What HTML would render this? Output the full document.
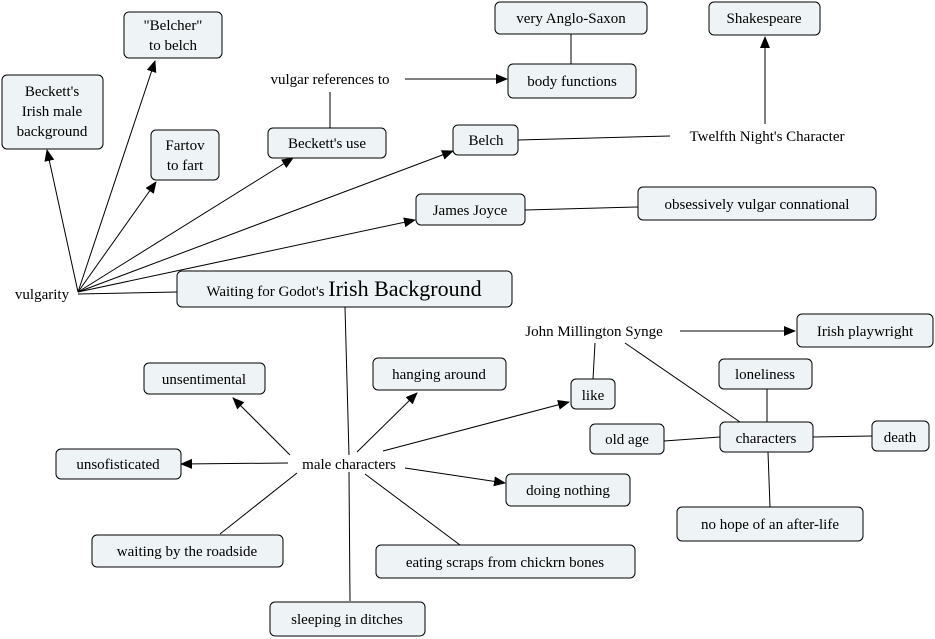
<!DOCTYPE html>
<html><head><meta charset="utf-8"><style>
html,body{margin:0;padding:0;background:#fff;}
svg{display:block;font-family:"Liberation Serif",serif;}
.b{fill:#eef3f5;stroke:#000;stroke-width:1;}
text{font-size:15px;fill:#000;text-anchor:middle;}
line{stroke:#000;stroke-width:1;}
</style></head><body>
<svg width="935" height="639" viewBox="0 0 935 639" xmlns="http://www.w3.org/2000/svg">
<defs><marker id="a" markerWidth="12" markerHeight="10" refX="11" refY="5" orient="auto" markerUnits="userSpaceOnUse"><path d="M0,0 L12,5 L0,10 z" fill="#000"/></marker></defs>
<g>
<line x1="78" y1="292" x2="47" y2="150" marker-end="url(#a)"/>
<line x1="78" y1="292" x2="155" y2="61" marker-end="url(#a)"/>
<line x1="78" y1="292" x2="156" y2="182" marker-end="url(#a)"/>
<line x1="78" y1="292" x2="293" y2="158" marker-end="url(#a)"/>
<line x1="78" y1="292" x2="453" y2="151" marker-end="url(#a)"/>
<line x1="78" y1="292" x2="415" y2="220" marker-end="url(#a)"/>
<line x1="78" y1="294" x2="177" y2="292"/>
<line x1="330" y1="128" x2="330" y2="92"/>
<line x1="405" y1="79" x2="507" y2="79" marker-end="url(#a)"/>
<line x1="571" y1="34" x2="571" y2="64"/>
<line x1="518" y1="140" x2="670" y2="136"/>
<line x1="765" y1="124" x2="765" y2="37" marker-end="url(#a)"/>
<line x1="525" y1="210" x2="638" y2="207"/>
<line x1="345" y1="307" x2="349" y2="455"/>
<line x1="349" y1="472" x2="350" y2="601"/>
<line x1="290" y1="455" x2="233" y2="398" marker-end="url(#a)"/>
<line x1="288" y1="463" x2="181" y2="464" marker-end="url(#a)"/>
<line x1="357" y1="452" x2="417" y2="393" marker-end="url(#a)"/>
<line x1="383" y1="451" x2="569" y2="402" marker-end="url(#a)"/>
<line x1="405" y1="468" x2="505" y2="483" marker-end="url(#a)"/>
<line x1="297" y1="473" x2="220" y2="534"/>
<line x1="365" y1="474" x2="460" y2="545"/>
<line x1="680" y1="331" x2="795" y2="331" marker-end="url(#a)"/>
<line x1="595" y1="343" x2="593" y2="379"/>
<line x1="625" y1="343" x2="740" y2="422"/>
<line x1="767" y1="389" x2="767" y2="422"/>
<line x1="664" y1="441" x2="720" y2="437"/>
<line x1="813" y1="437" x2="872" y2="436"/>
<line x1="768" y1="452" x2="770" y2="507"/>
</g>
<g>
<rect class="b" x="124" y="12" width="98" height="46" rx="5"/>
<text x="173" y="30">"Belcher"</text><text x="173" y="50">to belch</text>
<rect class="b" x="2" y="75" width="101" height="74" rx="5"/>
<text x="52" y="96">Beckett's</text><text x="52" y="116">Irish male</text><text x="52" y="136">background</text>
<rect class="b" x="151" y="130" width="68" height="50" rx="5"/>
<text x="185" y="150">Fartov</text><text x="185" y="170">to fart</text>
<rect class="b" x="268" y="128" width="118" height="30" rx="5"/>
<text x="327" y="148">Beckett's use</text>
<text x="330" y="84">vulgar references to</text>
<rect class="b" x="508" y="64" width="128" height="34" rx="5"/>
<text x="572" y="86">body functions</text>
<rect class="b" x="495" y="2" width="152" height="32" rx="5"/>
<text x="571" y="23">very Anglo-Saxon</text>
<rect class="b" x="709" y="2" width="111" height="33" rx="5"/>
<text x="764" y="23">Shakespeare</text>
<rect class="b" x="453" y="125" width="65" height="30" rx="5"/>
<text x="486" y="145">Belch</text>
<text x="767" y="141">Twelfth Night's Character</text>
<rect class="b" x="416" y="194" width="109" height="31" rx="5"/>
<text x="470" y="215">James Joyce</text>
<rect class="b" x="638" y="187" width="238" height="33" rx="5"/>
<text x="757" y="209">obsessively vulgar connational</text>
<text x="42" y="299">vulgarity</text>
<rect class="b" x="177" y="271" width="335" height="36" rx="5"/>
<text x="344" y="296"><tspan>Waiting for Godot's </tspan><tspan style="font-size:22px">Irish Background</tspan></text>
<text x="594" y="336">John Millington Synge</text>
<rect class="b" x="797" y="314" width="136" height="33" rx="5"/>
<text x="865" y="336">Irish playwright</text>
<rect class="b" x="719" y="359" width="93" height="30" rx="5"/>
<text x="765" y="379">loneliness</text>
<rect class="b" x="571" y="379" width="44" height="30" rx="5"/>
<text x="593" y="400">like</text>
<rect class="b" x="720" y="422" width="93" height="30" rx="5"/>
<text x="766" y="443">characters</text>
<rect class="b" x="590" y="424" width="74" height="30" rx="5"/>
<text x="627" y="444">old age</text>
<rect class="b" x="872" y="421" width="57" height="30" rx="5"/>
<text x="900" y="442">death</text>
<rect class="b" x="677" y="507" width="186" height="34" rx="5"/>
<text x="770" y="529">no hope of an after-life</text>
<rect class="b" x="144" y="363" width="121" height="31" rx="5"/>
<text x="204" y="384">unsentimental</text>
<rect class="b" x="373" y="358" width="133" height="32" rx="5"/>
<text x="439" y="379">hanging around</text>
<text x="349" y="469">male characters</text>
<rect class="b" x="56" y="449" width="125" height="30" rx="5"/>
<text x="118" y="469">unsofisticated</text>
<rect class="b" x="506" y="474" width="124" height="32" rx="5"/>
<text x="568" y="495">doing nothing</text>
<rect class="b" x="92" y="535" width="191" height="32" rx="5"/>
<text x="187" y="556">waiting by the roadside</text>
<rect class="b" x="376" y="545" width="259" height="33" rx="5"/>
<text x="505" y="567">eating scraps from chickrn bones</text>
<rect class="b" x="270" y="602" width="155" height="34" rx="5"/>
<text x="347" y="624">sleeping in ditches</text>
</g>
</svg>
</body></html>
